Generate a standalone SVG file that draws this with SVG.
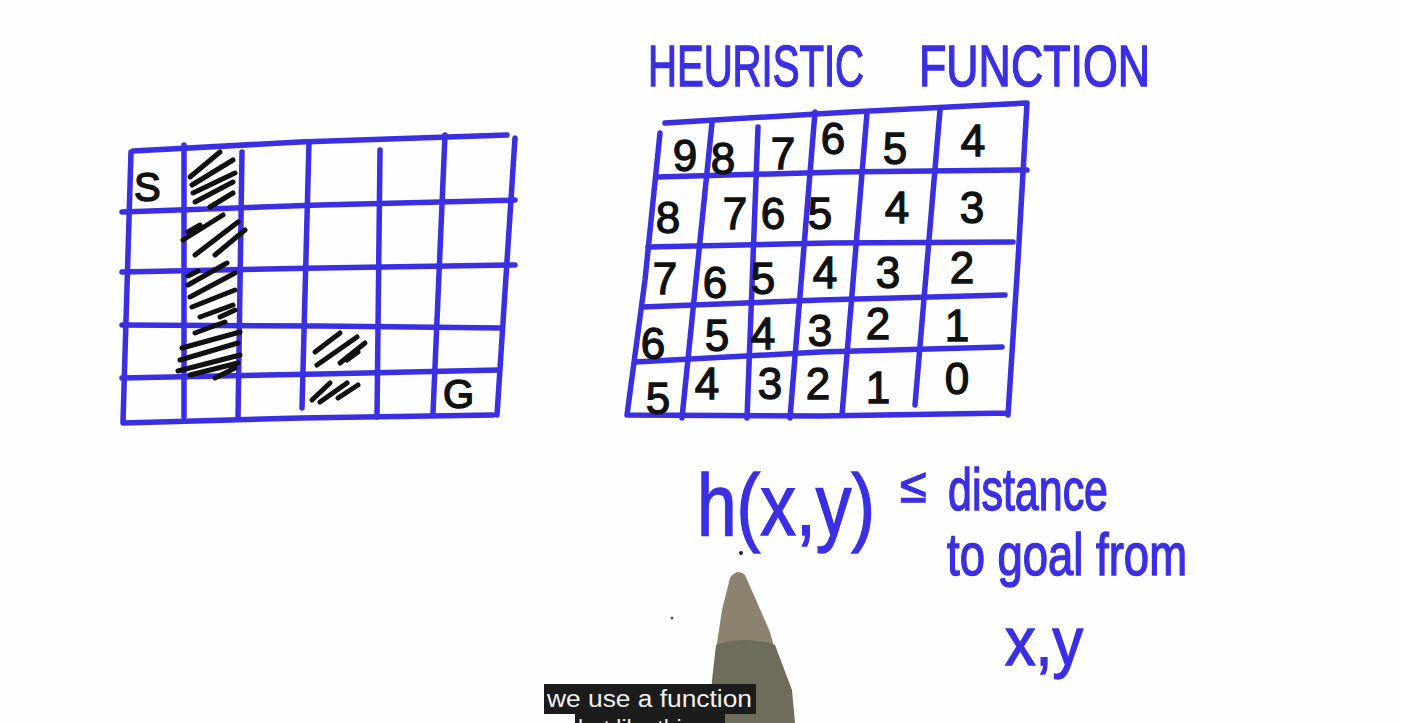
<svg xmlns="http://www.w3.org/2000/svg" width="1401" height="723" viewBox="0 0 1401 723">
<style>
.b{fill:none;stroke:#3a2fe3;stroke-width:5.5;stroke-linecap:round;stroke-linejoin:round}
.h{fill:none;stroke:#111;stroke-width:5;stroke-linecap:round}
.n{font-family:"Liberation Sans",Arial,sans-serif;font-size:44px;fill:#111;stroke:#111;stroke-width:1.3;text-anchor:middle}
.w{font-family:"Liberation Sans",Arial,sans-serif;fill:#3a2fe3;stroke:#3a2fe3;stroke-width:1.5}
.l{font-family:"Liberation Sans",Arial,sans-serif;font-size:40px;fill:#111;stroke:#111;stroke-width:1.5}
.s{font-family:"Liberation Sans",Arial,sans-serif;font-size:23px;fill:#f2f2f2}
</style>
<rect width="1401" height="723" fill="#fefefe"/>
<g id="left-grid">
<path class="b" d="M133,151 L300,142 L507,135 M131,152 L123,422 M515,138 L497,415 M123,423 L300,418 L493,415"/>
<path class="b" d="M122,212 L320,205 L515,200 M122,272 L320,268 L515,265 M122,325 L320,326 L502,328 M122,378 L320,374 L498,370"/>
<path class="b" d="M184,145 L184,417 M242,152 L238,418 M309,142 L302,408 M380,150 L377,417 M445,135 L433,413"/>
<text class="l" x="134" y="201">S</text>
<text class="l" x="443" y="408" font-size="34">G</text>
<path class="h" d="M190,177 L220,152 M192,185 L233,160 M193,193 L235,173 M195,202 L233,182 M210,207 L233,193"/>
<path class="h" d="M183,240 L223,215 M195,255 L238,222 M215,255 L245,230 M188,232 L200,225"/>
<path class="h" d="M188,276 L198,271 M188,285 L227,263 M190,297 L235,273 M192,307 L235,290 M200,317 L233,305 M220,317 L235,310"/>
<path class="h" d="M195,333 L225,322 M182,348 L240,332 M180,360 L238,343 M178,371 L240,355 M190,375 L238,363 M215,378 L235,368"/>
<path class="h" d="M315,352 L340,333 M317,365 L357,337 M340,363 L365,343 M347,360 L358,352"/>
<path class="h" d="M312,400 L330,383 M320,402 L347,383 M338,398 L358,385"/>
</g>
<g id="title">
<text class="w" x="648" y="86" font-size="58" textLength="216" lengthAdjust="spacingAndGlyphs">HEURISTIC</text>
<text class="w" x="919" y="86" font-size="58" textLength="231" lengthAdjust="spacingAndGlyphs">FUNCTION</text>
</g>
<g id="right-grid">
<path class="b" d="M665,123 L850,112 L1027,103 M660,133 L645,280 L627,415 M1027,103 L1018,260 L1008,415 M627,415 L820,416 L1008,413"/>
<path class="b" d="M657,177 L840,172 L1027,170 M648,247 L830,243 L1013,242 M642,307 L820,300 L1005,295 M635,362 L820,352 L1002,347"/>
<path class="b" d="M712,123 L682,418 M758,127 L747,418 M815,112 L790,418 M867,113 L842,415 M940,110 L915,405"/>
<g>
<text class="n" x="685" y="171">9</text><text class="n" x="723" y="174">8</text><text class="n" x="783" y="169">7</text><text class="n" x="833" y="154">6</text><text class="n" x="895" y="164">5</text><text class="n" x="973" y="156">4</text>
<text class="n" x="668" y="233">8</text><text class="n" x="735" y="229">7</text><text class="n" x="773" y="229">6</text><text class="n" x="820" y="229">5</text><text class="n" x="897" y="223">4</text><text class="n" x="972" y="223">3</text>
<text class="n" x="665" y="294">7</text><text class="n" x="715" y="298">6</text><text class="n" x="763" y="294">5</text><text class="n" x="825" y="288">4</text><text class="n" x="888" y="288">3</text><text class="n" x="962" y="283">2</text>
<text class="n" x="653" y="359">6</text><text class="n" x="717" y="351">5</text><text class="n" x="763" y="349">4</text><text class="n" x="820" y="346">3</text><text class="n" x="878" y="339">2</text><text class="n" x="957" y="341">1</text>
<text class="n" x="658" y="414">5</text><text class="n" x="707" y="399">4</text><text class="n" x="770" y="399">3</text><text class="n" x="818" y="399">2</text><text class="n" x="878" y="403">1</text><text class="n" x="957" y="394">0</text>
</g>
</g>
<g id="formula">
<text class="w" x="697" y="535" font-size="88" textLength="178" lengthAdjust="spacingAndGlyphs">h(x,y)</text>
<text class="w" x="900" y="502" font-size="48">≤</text>
<text class="w" x="948" y="510" font-size="60" textLength="160" lengthAdjust="spacingAndGlyphs">distance</text>
<text class="w" x="947" y="575" font-size="60" textLength="240" lengthAdjust="spacingAndGlyphs">to goal from</text>
<text class="w" x="1005" y="665" font-size="68" textLength="78" lengthAdjust="spacingAndGlyphs">x,y</text>
</g>
<g id="pen">
<circle cx="741" cy="553" r="2" fill="#222"/>
<circle cx="672" cy="618" r="1.5" fill="#555"/>
<path d="M730,578 Q737,568 745,575 L770,632 L775,650 L716,650 L722,610 Z" fill="#8b836f"/>
<path d="M716,645 Q745,635 775,645 L792,690 L795,723 L710,723 L712,680 Z" fill="#6e6d5c"/>
</g>
<g id="subtitles">
<rect x="544" y="684" width="212" height="30" fill="#1c1c1c"/>
<text class="s" x="547" y="707" textLength="205" lengthAdjust="spacingAndGlyphs">we use a function</text>
<rect x="575" y="714" width="150" height="12" fill="#1c1c1c"/>
<text class="s" x="578" y="737">but like this</text>
</g>
</svg>
